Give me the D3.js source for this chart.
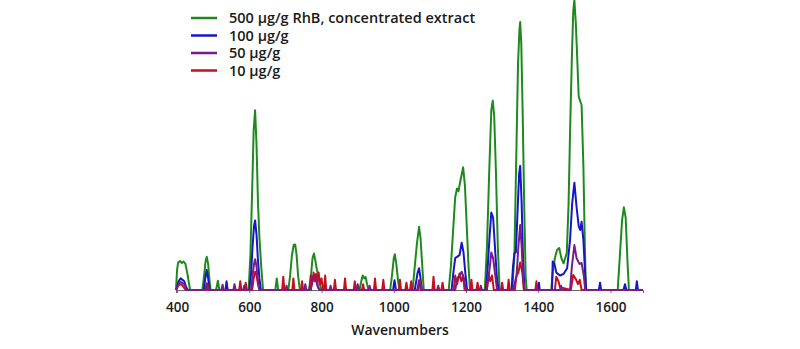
<!DOCTYPE html>
<html>
<head>
<meta charset="utf-8">
<script src="https://cdn.jsdelivr.net/npm/d3@7"></script>
<style>
  body { margin: 0; background: #fff; }
  svg { display: block; font-family: "Open Sans", sans-serif; }
</style>
</head>
<body>
<div id="chart"></div>
<script>
// series labels and colours
var seriesNames = ["500 µg/g RhB, concentrated extract", "100 µg/g", "50 µg/g", "10 µg/g"];
var seriesColors = ["#1e8a1e", "#1616c8", "#7a1c86", "#c4101e"];
var xTicks = [400, 600, 800, 1000, 1200, 1400, 1600];

// [wavenumber, intensity]
var green500 = [
  [397,0],[400,7],[403,9.5],[408,10],[413,9.3],[418,9.8],[423,9],[428,6],[432,3],[436,0],
  [470,0],[474,4],[479,10],[482,11.5],[486,9],[490,3],[493,0],
  [508,0],[513,3.2],[517,0],
  [598,0],[603,12],[608,35],[612,55],[616,62],[620,50],[624,30],[628,18],[633,8],[638,0],
  [672,0],[676,4],[680,0],
  [708,0],[713,5],[718,12],[723,15.5],[727,15.7],[731,12],[735,5],[740,0],
  [765,0],[770,4],[775,11],[779,12.6],[783,10],[787,7],[790,5.5],[795,2],[800,0],
  [905,0],[910,3],[914,5],[918,4],[922,4.5],[926,2],[930,0],
  [990,0],[995,5],[1000,11],[1003,12.3],[1007,9],[1012,3],[1016,0],
  [1052,0],[1058,8],[1064,16],[1070,21.8],[1074,18],[1079,8],[1083,0],
  [1152,0],[1158,8],[1164,20],[1170,32],[1175,35],[1179,34],[1185,38],[1192,42.3],[1197,36],[1202,22],[1207,8],[1211,0],
  [1252,0],[1258,15],[1264,40],[1270,62],[1274,65.3],[1278,60],[1283,40],[1288,15],[1293,0],
  [1328,0],[1334,12],[1339,45],[1344,78],[1348,90],[1350,92.4],[1353,85],[1357,60],[1361,30],[1365,5],[1368,0],
  [1436,0],[1440,6],[1446,11],[1452,13.8],[1458,14.5],[1464,11],[1470,9.2],[1479,12.7],[1484,30],[1488,54],
  [1493,80],[1497,96.5],[1500,100],[1504,92],[1507,82.8],[1512,66.7],[1520,63.8],[1525,42.5],[1529,15],[1532,0],
  [1620,0],[1626,12],[1632,24],[1637,28.5],[1642,25],[1647,10],[1651,0],
  [1690,0]
];

var blue100 = [
  [397,0],[400,1],[404,3],[410,4],[415,3.5],[420,3],[425,1],[430,0],
  [474,0],[478,4],[482,6.9],[486,4],[490,0],
  [534,0],[537,3],[540,0],
  [600,0],[605,6],[609,15],[613,22],[616,24],[620,19],[624,10],[628,4],[632,0],
  [770,0],[775,4],[779,5.2],[784,4],[790,1],[795,0],
  [998,0],[1002,3.4],[1006,0],
  [1058,0],[1062,3],[1066,6],[1070,7.5],[1074,4],[1078,0],
  [1160,0],[1165,6],[1170,11],[1176,11.5],[1182,12],[1188,16.3],[1193,13],[1198,6],[1203,0],
  [1255,0],[1260,8],[1265,18],[1270,26.7],[1275,25],[1280,15],[1285,5],[1290,0],
  [1326,0],[1330,8],[1334,12.7],[1338,13],[1342,25],[1347,40],[1350,42.8],[1354,30],[1358,10],[1362,0],
  [1400,0],[1402,2.5],[1404,0],
  [1438,0],[1440,9.8],[1445,9],[1450,6],[1460,5],[1470,5.5],[1480,7.5],[1488,17.2],[1494,30],[1500,37],
  [1506,28.7],[1512,22],[1516,20.7],[1520,23.5],[1525,17.2],[1530,5],[1533,0],
  [1568,0],[1571,2.5],[1574,0],
  [1636,0],[1640,2],[1644,0],
  [1670,0],[1673,3],[1676,0],
  [1690,0]
];

var purple50 = [
  [397,0],[402,1.5],[408,2.8],[414,2.5],[420,2],[426,0],
  [478,0],[482,2.3],[486,0],
  [523,0],[526,1.8],[529,0],[556,0],[559,2],[562,0],[583,0],[586,1.5],[589,0],
  [605,0],[609,5],[613,9],[616,10.6],[620,8],[624,3],[628,0],
  [700,0],[703,1.5],[706,0],[752,0],[755,2],[758,0],
  [770,0],[775,4],[779,5],[784,4],[790,1],[795,0],
  [822,0],[825,1.5],[828,0],[896,0],[900,2],[904,0],[930,0],[933,1.5],[936,0],
  [1065,0],[1070,3.4],[1075,0],
  [1120,0],[1123,1.5],[1126,0],
  [1170,0],[1176,4],[1182,5],[1188,6.3],[1194,4],[1200,0],
  [1238,0],[1241,1.5],[1244,0],
  [1258,0],[1264,6],[1270,12.9],[1275,11],[1281,5],[1286,0],
  [1330,0],[1336,3],[1340,5],[1345,15],[1350,22.4],[1354,15],[1358,4],[1362,0],
  [1460,0],[1463,1.5],[1466,0],
  [1488,0],[1493,8],[1500,15.5],[1506,11],[1514,9],[1520,9.3],[1526,5],[1530,0],
  [1690,0]
];

var red10 = [
  [397,0],[404,1.7],[412,2],[418,1],[424,0],
  [480,0],[484,2],[488,0],
  [572,0],[575,3],[578,0],[587,0],[590,2.5],[593,0],
  [608,0],[612,4],[616,6.3],[620,5],[624,2],[628,0],
  [691,0],[694,4.6],[697,0],[719,0],[722,4],[725,0],[743,0],[746,3],[749,0],
  [767,0],[770,5],[774,2],[778,6],[781,3],[785,5.5],[788,2],[792,6],[796,2],[800,4],[804,0],[807,0],[810,5],[813,0],
  [834,0],[837,3.5],[840,0],[862,0],[865,4],[868,0],[889,0],[892,3],[895,0],[912,0],[915,2],[918,0],
  [945,0],[948,4],[951,0],[968,0],[971,3.5],[974,0],[1014,0],[1017,3.5],[1020,0],[1032,0],[1035,2.5],[1038,0],
  [1045,0],[1048,3],[1051,0],[1068,0],[1073,3.4],[1077,0],[1107,0],[1110,4.6],[1113,0],[1132,0],[1135,2.5],[1138,0],
  [1166,0],[1170,5],[1175,2],[1182,5.7],[1187,3],[1192,5],[1196,0],[1212,0],[1215,3.5],[1218,0],[1229,0],[1232,2.5],[1235,0],
  [1257,0],[1262,5.7],[1267,3],[1272,5],[1277,0],[1297,0],[1300,2.5],[1303,0],[1315,0],[1318,3.5],[1321,0],
  [1335,0],[1340,5],[1345,6],[1350,9.5],[1356,6],[1360,0],[1392,0],[1395,3],[1398,0],
  [1446,0],[1450,4.6],[1456,3],[1460,1],[1490,0],[1497,5.2],[1505,3.5],[1510,2],[1515,3.5],[1520,0],
  [1690,0]
];

var allSeries = [green500, blue100, purple50, red10];
var drawOrder = [0, 1, 3, 2];

var W = 800, H = 349;
var svg = d3.select("#chart").append("svg")
  .attr("width", W)
  .attr("height", H);

var xScale = d3.scaleLinear()
  .domain([397, 1690])
  .range([176, 643]);
var yScale = d3.scaleLinear()
  .domain([0, 100])
  .range([290, 0]);

// axis
var xAxis = d3.axisBottom(xScale)
  .tickValues(xTicks)
  .tickSize(3)
  .tickPadding(9)
  .tickFormat(d3.format("d"));
var axisG = svg.append("g")
  .attr("transform", "translate(0," + yScale(0) + ")")
  .call(xAxis);
axisG.select(".domain").attr("stroke", "#666");
axisG.selectAll(".tick line").attr("stroke", "#666");
axisG.selectAll(".tick text")
  .attr("fill", "#1a1a1a")
  .style("font-family", "'Open Sans', sans-serif")
  .style("font-size", "13.5px")
  .style("font-weight", 600);

svg.append("text")
  .attr("x", 400)
  .attr("y", 335)
  .attr("text-anchor", "middle")
  .attr("fill", "#1a1a1a")
  .style("font-size", "14px")
  .style("font-weight", 600)
  .text("Wavenumbers");

// lines
var lineGenerator = d3.line()
  .x(d => xScale(d[0]))
  .y(d => yScale(d[1]));

svg.append("g")
  .attr("fill", "none")
  .attr("stroke-width", 2)
  .attr("stroke-linejoin", "round")
  .selectAll("path")
  .data(drawOrder)
  .enter()
    .append("path")
      .attr("stroke", i => seriesColors[i])
      .attr("d", i => lineGenerator(allSeries[i]));

// legend
var legend = svg.append("g")
  .selectAll("g")
  .data(seriesNames)
  .enter()
    .append("g")
      .attr("transform", (d, i) => "translate(191," + (18 + i * 17.5) + ")");
legend.append("line")
  .attr("x1", 0)
  .attr("x2", 26)
  .attr("stroke-width", 2.5)
  .attr("stroke", (d, i) => seriesColors[i]);
legend.append("text")
  .attr("x", 38)
  .attr("dy", "0.35em")
  .attr("fill", "#1a1a1a")
  .style("font-size", "14.5px")
  .style("font-weight", 600)
  .text(d => d);
</script>
</body>
</html>
